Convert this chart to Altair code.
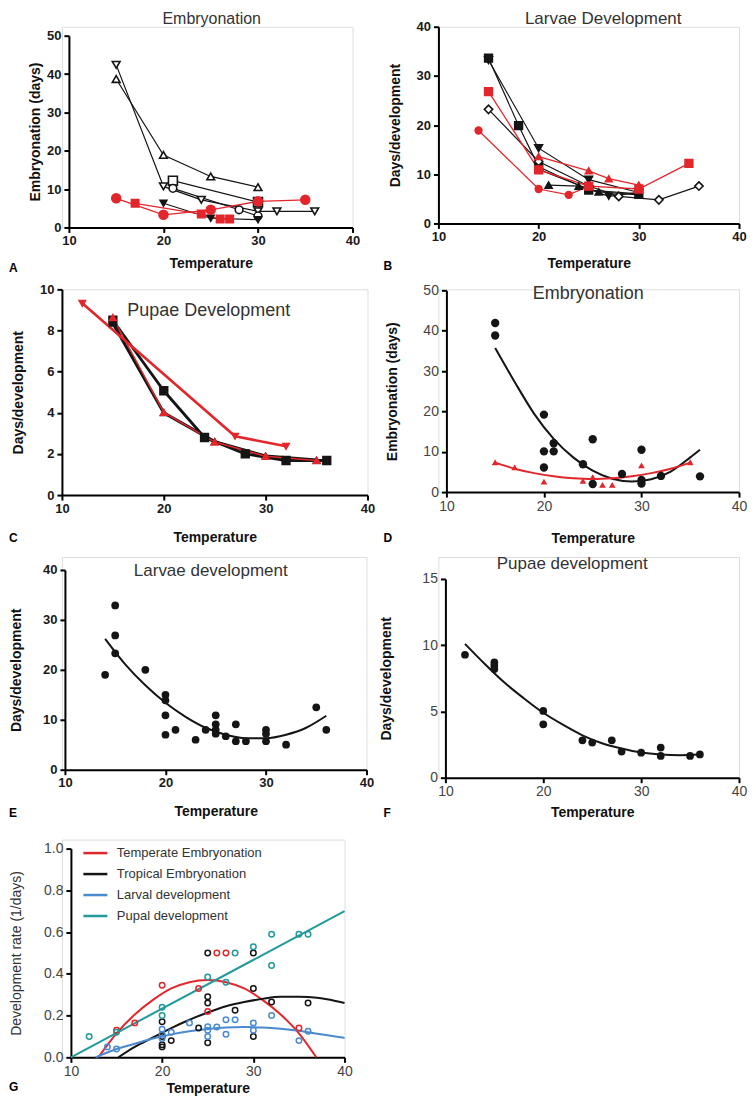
import altair as alt
import pandas as pd

FONT = "Liberation Sans"
RED = "#e3262b"
BLK = "#151515"
BLUE = "#4a8ad0"
TEAL = "#22999a"
GRAY = "#444444"
WHITE = "#ffffff"

TEMP_TICKS = [10, 20, 30, 40]
PANEL_TITLES = ["Embryonation", "Larvae Development", "Pupae Development", "Embryonation",
                "Larvae development", "Pupae development"]
LETTERS = ["A", "B", "C", "D", "E", "F", "G"]

# ---------------- Panel A ----------------
A1_T = [15, 20, 24, 30, 32, 36];  A1_V = [42.4, 10.7, 7.2, 4.2, 4.2, 4.2]
A2_T = [15, 20, 25, 30];          A2_V = [38.7, 18.9, 13.3, 10.5]
A3_T = [21, 30];                  A3_V = [12.2, 6.6]
A4_T = [21, 28, 30];              A4_V = [10.2, 4.6, 3.0]
A5_T = [20, 25, 30];              A5_V = [6.3, 2.4, 2.0]
A6_T = [15, 20, 25, 30, 35];      A6_V = [7.6, 3.3, 4.6, 6.8, 7.2]
A7_T = [17, 24, 26, 27];          A7_V = [6.3, 3.5, 2.2, 2.2]

# ---------------- Panel B ----------------
B1_T = [15, 20, 25, 30];          B1_V = [33.2, 15.3, 8.9, 6.3]
B2_T = [15, 18, 20, 25, 30];      B2_V = [33.6, 19.9, 11.5, 6.8, 6.0]
B3_T = [15, 20, 25, 28, 32, 36];  B3_V = [23.2, 12.6, 7.6, 5.5, 4.8, 7.6]
B4_T = [21, 24, 26, 30];          B4_V = [7.8, 7.6, 6.4, 5.8]
B5_T = [20, 25, 27, 30];          B5_V = [11.0, 7.0, 5.5, 6.3]
B6_T = [15, 20, 25, 30, 35];      B6_V = [26.8, 10.9, 7.6, 7.0, 12.2]
B7_T = [14, 20, 23, 25];          B7_V = [18.9, 7.0, 5.8, 7.6]
B8_T = [20, 25, 27, 30];          B8_V = [13.6, 10.7, 9.1, 7.8]

# ---------------- Panel C ----------------
C1_T = [15, 20, 24, 28, 32, 36];  C1_V = [8.5, 5.07, 2.8, 2.0, 1.68, 1.68]
C2_T = [15, 20, 25, 30, 35];      C2_V = [8.35, 4.0, 2.6, 1.9, 1.7]
C3_T = [12, 27, 32];              C3_V = [9.32, 2.86, 2.37]
C4_T = [15, 20, 25, 30, 35];      C4_V = [8.63, 4.02, 2.58, 1.89, 1.68]

# ---------------- Panel D ----------------
D_BLK_T = [15, 15, 20, 20, 20, 21, 21, 24, 25, 25, 28, 30, 30, 30, 32, 36]
D_BLK_V = [41.9, 38.8, 19.2, 10.1, 6.1, 12.1, 10.1, 6.9, 13.1, 2.0, 4.5, 10.5, 3.0, 2.1, 4.0, 3.9]
D_RED_T = [15, 17, 20, 24, 25, 26, 27, 30, 35]
D_RED_V = [7.4, 6.1, 2.6, 2.8, 3.7, 1.8, 1.8, 6.6, 7.4]
D_FIT_BLK_T = [15, 17, 19, 21, 23, 25, 27, 29, 31, 33, 35, 36]
D_FIT_BLK_V = [35.7, 27.3, 19.4, 13.2, 8.6, 5.3, 3.3, 2.6, 3.2, 5.1, 8.6, 10.5]
D_FIT_RED_T = [15, 17, 19, 21, 23, 25, 27, 29, 31, 33, 35]
D_FIT_RED_V = [7.3, 5.8, 4.7, 3.9, 3.4, 3.2, 3.4, 3.9, 4.7, 5.8, 7.3]

# ---------------- Panel E ----------------
E_T = [14, 15, 15, 15, 18, 20, 20, 20, 20, 21, 23, 24, 25, 25, 25, 25, 26, 27, 27, 28, 30, 30, 30, 32, 35, 36]
E_V = [19, 32.9, 26.9, 23.3, 20, 15, 13.9, 10.9, 7, 8, 6, 8, 10.9, 9.1, 8, 7.2, 6.7, 9.1, 5.7, 5.7, 8, 7.2, 5.7, 5, 12.5, 8]
E_FIT_T = [14, 16, 18, 20, 22, 24, 26, 28, 30, 32, 34, 36]
E_FIT_V = [26.2, 21.1, 16.9, 13.4, 10.6, 8.4, 7.0, 6.3, 6.3, 7.0, 8.4, 10.8]

# ---------------- Panel F ----------------
F_T = [12, 15, 15, 15, 20, 20, 24, 25, 27, 28, 30, 32, 32, 35, 36]
F_V = [9.28, 8.7, 8.45, 8.2, 5.04, 4.03, 2.82, 2.65, 2.82, 1.97, 1.89, 2.27, 1.64, 1.64, 1.76]
F_FIT_T = [12, 14, 16, 18, 20, 22, 24, 26, 28, 30, 32, 34, 36]
F_FIT_V = [10.1, 8.6, 7.2, 6.0, 4.9, 4.0, 3.2, 2.6, 2.2, 1.9, 1.75, 1.7, 1.75]

# ---------------- Panel G ----------------
G_SERIES = ["Temperate Embryonation", "Tropical Embryonation", "Larval development", "Pupal development"]
G_COLORS = [RED, BLK, BLUE, TEAL]
G_TEMP_T = [15, 17, 20, 24, 25, 26, 27, 35]
G_TEMP_V = [0.13, 0.165, 0.345, 0.33, 0.22, 0.5, 0.5, 0.14]
G_TROP_T = [20, 20, 20, 20, 21, 24, 25, 25, 25, 25, 28, 30, 30, 30, 32, 36]
G_TROP_V = [0.05, 0.06, 0.1, 0.17, 0.08, 0.14, 0.07, 0.26, 0.29, 0.5, 0.225, 0.1, 0.33, 0.5, 0.265, 0.26]
G_LARV_T = [14, 15, 20, 20, 20, 21, 23, 25, 25, 25, 26, 27, 27, 28, 30, 30, 32, 35, 36]
G_LARV_V = [0.05, 0.04, 0.09, 0.11, 0.135, 0.12, 0.165, 0.1, 0.13, 0.146, 0.145, 0.11, 0.18, 0.18, 0.13, 0.165, 0.2, 0.08, 0.125]
G_PUP_T = [12, 15, 20, 20, 25, 27, 28, 30, 32, 32, 35, 36]
G_PUP_V = [0.1, 0.12, 0.2, 0.24, 0.385, 0.36, 0.5, 0.53, 0.59, 0.44, 0.59, 0.59]
G_FIT_TEMP_T = [13, 15, 17, 19, 21, 23, 25, 27, 29, 31, 33, 35, 36.9]
G_FIT_TEMP_V = [0.0, 0.115, 0.205, 0.275, 0.33, 0.36, 0.37, 0.36, 0.33, 0.275, 0.205, 0.115, 0.0]
G_FIT_TROP_T = [15.2, 17, 19, 21, 23, 25, 27, 29, 31, 33, 35, 37, 39, 40]
G_FIT_TROP_V = [0.0, 0.05, 0.095, 0.14, 0.18, 0.215, 0.245, 0.265, 0.28, 0.29, 0.29, 0.285, 0.27, 0.26]
G_FIT_LARV_T = [12.7, 15, 17, 19, 21, 23, 25, 27, 29, 31, 33, 35, 37, 39, 40]
G_FIT_LARV_V = [0.0, 0.04, 0.065, 0.09, 0.11, 0.125, 0.136, 0.143, 0.145, 0.143, 0.137, 0.127, 0.113, 0.1, 0.093]
G_FIT_PUP_T = [10, 40]
G_FIT_PUP_V = [0.0, 0.70]


def series_df(specs):
    rows = []
    for i, (ts, vs, col, shape, fill, size, lw) in enumerate(specs):
        for t, v in zip(ts, vs):
            rows.append(dict(sid=i, t=t, v=v, col=col, shape=shape, fill=fill, size=size, lw=lw))
    return pd.DataFrame(rows)


def enc_xy(dx, w, dy, h, ydom, yvals, ytitle, bold, ytp, xtp, yfmt="d", ytitle_bold=True):
    lw = "bold" if bold else "normal"
    lc = "#1a1a1a" if bold else GRAY
    lfs = 13 if bold else 14
    xax = alt.Axis(values=TEMP_TICKS, title="Temperature", titleFont=FONT, titleFontSize=14,
                   titleFontWeight="bold", titleColor="#111", labelFont=FONT, labelFontSize=lfs,
                   labelFontWeight=lw, labelColor=lc, domainColor="black", domainWidth=2,
                   tickColor="black", tickWidth=2, tickSize=5, grid=False, titlePadding=xtp,
                   labelPadding=2, format="d", labelFlush=False)
    yax = alt.Axis(values=yvals, title=ytitle, titleFont=FONT, titleFontSize=14,
                   titleFontWeight="bold" if ytitle_bold else "normal",
                   titleColor="#111" if ytitle_bold else "#333", labelFont=FONT, labelFontSize=lfs,
                   labelFontWeight=lw, labelColor=lc, domainColor="black", domainWidth=2,
                   tickColor="black", tickWidth=2, tickSize=5, grid=False, titlePadding=ytp,
                   labelPadding=3, format=yfmt, offset=-dx, labelFlush=False)
    x = alt.X("t:Q", scale=alt.Scale(domain=[10, 40], range=[dx, dx + w], nice=False, zero=False), axis=xax)
    y = alt.Y("v:Q", scale=alt.Scale(domain=ydom, range=[dy + h, dy], nice=False, zero=False), axis=yax)
    return x, y


def text_layer(txt, px, py, size, weight="normal", color="#333", align="center"):
    return alt.Chart(pd.DataFrame({"s": [txt]})).mark_text(
        font=FONT, fontSize=size, fontWeight=weight, color=color, align=align, baseline="middle"
    ).encode(text="s:N", x=alt.value(px), y=alt.value(py))


def line_panel(specs, x, y):
    df = series_df(specs)
    lines = alt.Chart(df).mark_line().encode(
        x=x, y=y, detail="sid:N", color=alt.Color("col:N", scale=None),
        strokeWidth=alt.StrokeWidth("lw:Q", scale=None), order="t:Q")
    pts = alt.Chart(df).mark_point(opacity=1, fillOpacity=1, strokeWidth=1.6).encode(
        x=x, y=y, shape=alt.Shape("shape:N", scale=None), fill=alt.Fill("fill:N", scale=None),
        stroke=alt.Stroke("col:N", scale=None), size=alt.Size("size:Q", scale=None))
    return [lines, pts]


LX = -53  # letter offset from left-column cell origin
RX = -55  # letter offset from right-column cell origin

# ---- A
dx, dy, w, h = 7, 9, 284, 192
x, y = enc_xy(dx, w, dy, h, [0, 50], [0, 10, 20, 30, 40, 50], "Embryonation (days)", True, 4, 9)
specsA = [
    (A1_T, A1_V, BLK, "triangle-down", WHITE, 60, 1.2),
    (A2_T, A2_V, BLK, "triangle-up", WHITE, 60, 1.2),
    (A3_T, A3_V, BLK, "square", WHITE, 80, 1.2),
    (A4_T, A4_V, BLK, "circle", WHITE, 60, 1.2),
    (A5_T, A5_V, BLK, "triangle-down", BLK, 45, 1.2),
    (A6_T, A6_V, RED, "circle", RED, 80, 1.3),
    (A7_T, A7_V, RED, "square", RED, 55, 1.3),
]
panelA = alt.layer(*line_panel(specsA, x, y),
                   text_layer(PANEL_TITLES[0], 150, -8, 16),
                   text_layer(LETTERS[0], LX, 242, 12, "bold", "black", "left")
                   ).properties(width=dx + w, height=dy + h)

# ---- B
dx, dy, w, h = 0, 0, 301, 197
x, y = enc_xy(dx, w, dy, h, [0, 40], [0, 10, 20, 30, 40], "Days/development", True, 14, 13)
specsB = [
    (B1_T, B1_V, BLK, "triangle-down", BLK, 60, 1.2),
    (B2_T, B2_V, BLK, "square", BLK, 60, 1.2),
    (B3_T, B3_V, BLK, "diamond", WHITE, 70, 1.2),
    (B4_T, B4_V, BLK, "triangle-up", BLK, 50, 1.2),
    (B5_T, B5_V, BLK, "triangle-down", BLK, 40, 1.2),
    (B6_T, B6_V, RED, "square", RED, 60, 1.3),
    (B7_T, B7_V, RED, "circle", RED, 45, 1.3),
    (B8_T, B8_V, RED, "triangle-up", RED, 45, 1.3),
]
panelB = alt.layer(*line_panel(specsB, x, y),
                   text_layer(PANEL_TITLES[1], 165, -8, 17),
                   text_layer(LETTERS[1], RX, 240, 12, "bold", "black", "left")
                   ).properties(width=dx + w, height=dy + h)

# ---- C
dx, dy, w, h = 0, 0, 306, 206
x, y = enc_xy(dx, w, dy, h, [0, 10], [0, 2, 4, 6, 8, 10], "Days/development", True, 14, 15)
specsC = [
    (C2_T, C2_V, BLK, "triangle-up", BLK, 40, 3.0),
    (C1_T, C1_V, BLK, "square", BLK, 60, 2.8),
    (C3_T, C3_V, RED, "triangle-down", RED, 40, 2.6),
    (C4_T, C4_V, RED, "triangle-up", RED, 45, 1.4),
]
panelC = alt.layer(*line_panel(specsC, x, y),
                   text_layer(PANEL_TITLES[2], 147, 22, 18),
                   text_layer(LETTERS[2], LX, 249, 12, "bold", "black", "left")
                   ).properties(width=dx + w, height=dy + h)

# ---- D
dx, dy, w, h = 8, 1, 293, 202
x, y = enc_xy(dx, w, dy, h, [0, 50], [0, 10, 20, 30, 40, 50], "Embryonation (days)", False, 23, 18)
dfD_pts = pd.concat([
    pd.DataFrame({"t": D_BLK_T, "v": D_BLK_V, "col": BLK, "shape": "circle", "size": 70}),
    pd.DataFrame({"t": D_RED_T, "v": D_RED_V, "col": RED, "shape": "triangle-up", "size": 45}),
])
dfD_fit = pd.concat([
    pd.DataFrame({"t": D_FIT_BLK_T, "v": D_FIT_BLK_V, "col": BLK}),
    pd.DataFrame({"t": D_FIT_RED_T, "v": D_FIT_RED_V, "col": RED}),
])
panelD = alt.layer(
    alt.Chart(dfD_fit).mark_line(strokeWidth=2, interpolate="monotone").encode(
        x=x, y=y, color=alt.Color("col:N", scale=None), order="t:Q"),
    alt.Chart(dfD_pts).mark_point(filled=True, opacity=1).encode(
        x=x, y=y, color=alt.Color("col:N", scale=None), shape=alt.Shape("shape:N", scale=None),
        size=alt.Size("size:Q", scale=None)),
    text_layer(PANEL_TITLES[3], 150, 5, 18),
    text_layer(LETTERS[3], RX, 249, 12, "bold", "black", "left"),
).properties(width=dx + w, height=dy + h)

# ---- E
dx, dy, w, h = 3, 13, 302, 200
x, y = enc_xy(dx, w, dy, h, [0, 40], [0, 10, 20, 30, 40], "Days/development", True, 19, 15)
panelE = alt.layer(
    alt.Chart(pd.DataFrame({"t": E_FIT_T, "v": E_FIT_V})).mark_line(
        strokeWidth=2, color=BLK, interpolate="monotone").encode(x=x, y=y),
    alt.Chart(pd.DataFrame({"t": E_T, "v": E_V})).mark_point(
        filled=True, opacity=1, color=BLK, size=60).encode(x=x, y=y),
    text_layer(PANEL_TITLES[4], 149, 14, 17),
    text_layer(LETTERS[4], LX, 256, 12, "bold", "black", "left"),
).properties(width=dx + w, height=dy + h)

# ---- F
dx, dy, w, h = 7, 22, 294, 199
x, y = enc_xy(dx, w, dy, h, [0, 15], [0, 5, 10, 15], "Days/development", False, 28, 7)
panelF = alt.layer(
    alt.Chart(pd.DataFrame({"t": F_FIT_T, "v": F_FIT_V})).mark_line(
        strokeWidth=2, color=BLK, interpolate="monotone").encode(x=x, y=y),
    alt.Chart(pd.DataFrame({"t": F_T, "v": F_V})).mark_point(
        filled=True, opacity=1, color=BLK, size=60).encode(x=x, y=y),
    text_layer(PANEL_TITLES[5], 134, 7, 17),
    text_layer(LETTERS[5], RX, 256, 12, "bold", "black", "left"),
).properties(width=dx + w, height=dy + h)

# ---- G
dx, dy, w, h = 9, 9, 274, 209
x, y = enc_xy(dx, w, dy, h, [0, 1], [0, 0.2, 0.4, 0.6, 0.8, 1.0], "Development rate (1/days)",
              False, 20, 3, ".1f", ytitle_bold=False)
dfG_pts = pd.concat([
    pd.DataFrame({"t": G_TEMP_T, "v": G_TEMP_V, "col": RED}),
    pd.DataFrame({"t": G_TROP_T, "v": G_TROP_V, "col": BLK}),
    pd.DataFrame({"t": G_LARV_T, "v": G_LARV_V, "col": BLUE}),
    pd.DataFrame({"t": G_PUP_T, "v": G_PUP_V, "col": TEAL}),
])
dfG_fit = pd.concat([
    pd.DataFrame({"t": G_FIT_TEMP_T, "v": G_FIT_TEMP_V, "series": G_SERIES[0]}),
    pd.DataFrame({"t": G_FIT_TROP_T, "v": G_FIT_TROP_V, "series": G_SERIES[1]}),
    pd.DataFrame({"t": G_FIT_LARV_T, "v": G_FIT_LARV_V, "series": G_SERIES[2]}),
    pd.DataFrame({"t": G_FIT_PUP_T, "v": G_FIT_PUP_V, "series": G_SERIES[3]}),
])
legG = alt.Legend(orient="none", legendX=20, legendY=0, title=None, symbolType="stroke",
                  symbolSize=576, symbolStrokeWidth=2.5, labelFont=FONT, labelFontSize=13,
                  labelColor="#333", rowPadding=0, labelOffset=8)
panelG = alt.layer(
    alt.Chart(dfG_fit).mark_line(strokeWidth=2, interpolate="monotone").encode(
        x=x, y=y, color=alt.Color("series:N", scale=alt.Scale(domain=G_SERIES, range=G_COLORS), legend=legG),
        order="t:Q"),
    alt.Chart(dfG_pts).mark_point(filled=False, opacity=1, strokeWidth=1.5, size=30).encode(
        x=x, y=y, stroke=alt.Stroke("col:N", scale=None)),
    text_layer(LETTERS[6], LX, 248, 12, "bold", "black", "left"),
).properties(width=dx + w, height=dy + h)

chart = alt.concat(panelA, panelB, panelC, panelD, panelE, panelF, panelG,
                   columns=2, spacing=alt.RowColnumber(row=62, column=71),
                   bounds="flush", align="each").resolve_scale(
    color="independent", x="independent", y="independent"
).properties(
    padding={"left": 0, "top": 0, "right": 0, "bottom": 0}
).configure_view(strokeWidth=0).configure(background="white")

chart.save("out.html", embed_options={"renderer": "svg", "actions": False})
